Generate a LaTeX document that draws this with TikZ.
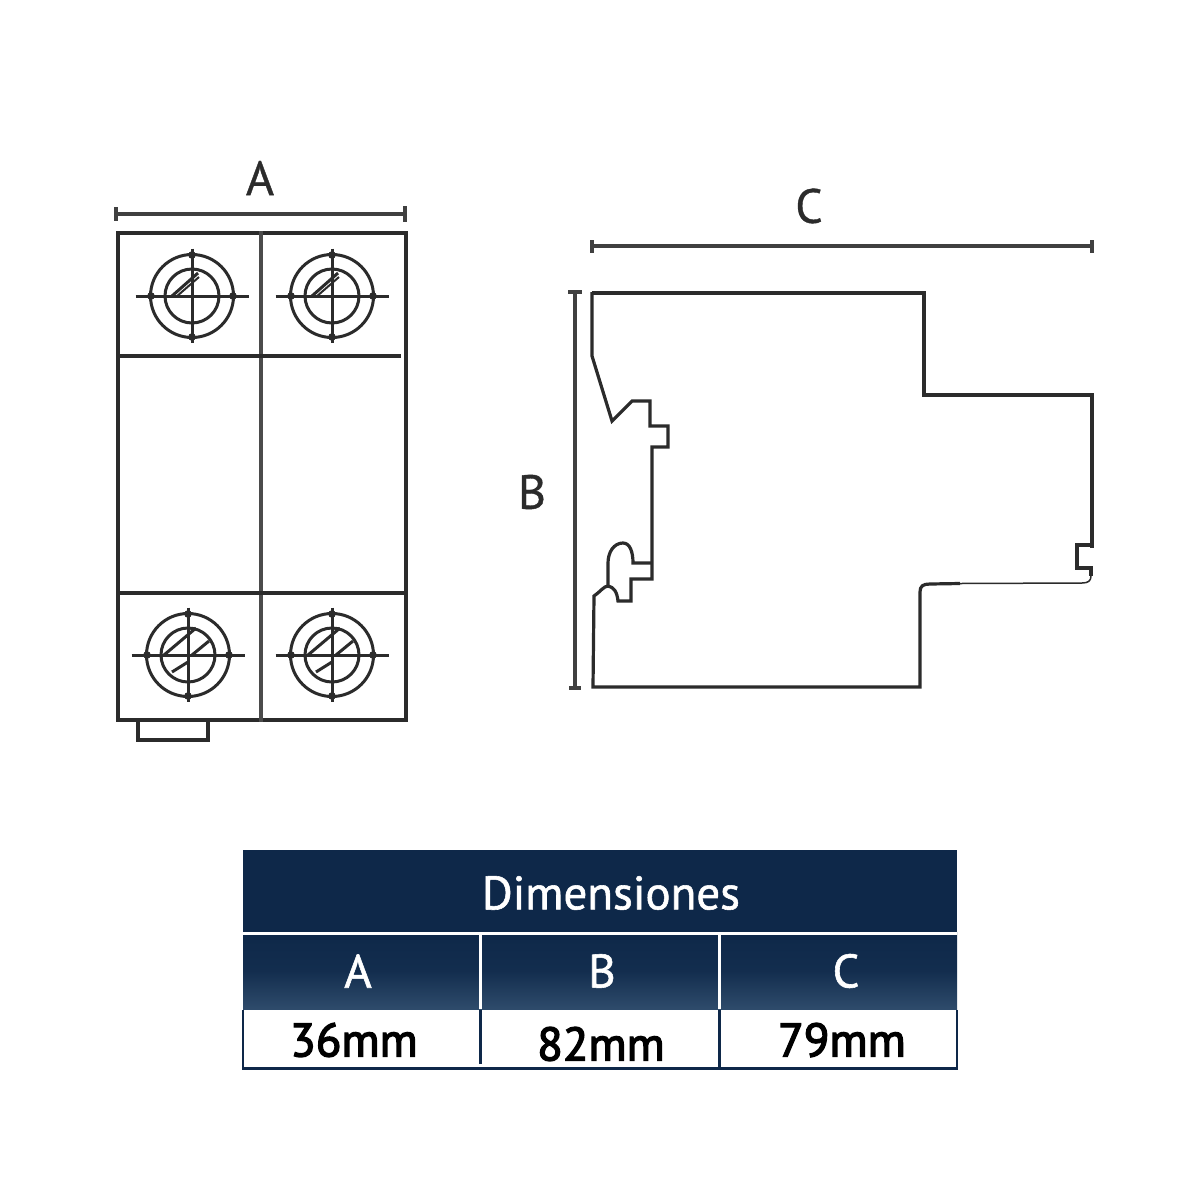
\documentclass[tikz,border=0pt]{standalone}
\usepackage{fontspec}
\setmainfont{PT Sans}
\newfontfamily\labelfont{PT Sans}[FakeBold=0.8]
\newfontfamily\headfont{PT Sans}[FakeBold=1.2]
\newfontfamily\valfont{PT Sans}[FakeBold=3]
\definecolor{navy}{HTML}{0E2849}
\definecolor{navylight}{HTML}{2F4C6C}
\definecolor{ink}{HTML}{2B2B2B}
\tikzset{
  body/.style={draw=ink,line width=3.4pt,line cap=butt,line join=miter},
  divider/.style={draw=ink!85,line width=3.2pt},
  profile/.style={draw=ink,line width=3.2pt,line cap=butt,line join=miter},
  dim/.style={draw=ink!90,line width=3.2pt},
  screwline/.style={draw=ink,line width=3pt},
  biglabel/.style={text=ink,font=\labelfont\fontsize{48}{50}\selectfont,inner sep=0pt},
  headtext/.style={text=white,font=\headfont\fontsize{47}{50}\selectfont,inner sep=0pt},
  valtext/.style={text=black,font=\valfont\fontsize{47}{50}\selectfont,inner sep=0pt},
  whiterule/.style={draw=white,line width=3pt},
}
\newcommand{\screwbase}[2]{%
  \draw[screwline] (#1,#2) circle[radius=41.5pt];
  \draw[screwline] (#1,#2) circle[radius=27pt];
  \draw[screwline] (#1-56.5,#2) -- (#1+56.5,#2);
  \draw[screwline] (#1,#2-47.5) -- (#1,#2+47);
  \fill[ink] (#1-41,#2) circle[radius=3.8pt] (#1+41,#2) circle[radius=3.8pt]
             (#1,#2-41) circle[radius=3.8pt] (#1,#2+41) circle[radius=3.8pt];
}
\newcommand{\screwtop}[2]{%
  \screwbase{#1}{#2}
  \draw[screwline] (#1-20,#2) -- (#1+6,#2-23);
  \draw[screwline,line width=2pt] (#1-16,#2+1) -- (#1+7,#2-19);
}
\newcommand{\screwbottom}[2]{%
  \screwbase{#1}{#2}
  \draw[screwline] (#1-24,#2) -- (#1+8,#2-27);
  \draw[screwline] (#1+4,#2) -- (#1+21,#2-14);
  \draw[screwline] (#1-16,#2+17) -- (#1,#2+7);
}
\begin{document}
\begin{tikzpicture}[x=1pt,y=-1pt]
\useasboundingbox (0,0) rectangle (1200,1200);
\fill[white] (0,0) rectangle (1200,1200);

% front view
\draw[body] (118,233) rectangle (406,720);
\draw[divider] (261,231) -- (261,722);
\draw[body] (119,356) -- (401,356);
\draw[body] (118,593) -- (406,593);
\draw[profile] (138,721) -- (138,740) -- (208,740) -- (208,721);
\screwtop{192}{296}
\screwtop{332}{296}
\screwbottom{188}{655}
\screwbottom{332}{655}

% dimension A
\coordinate (a1) at (116,214);
\coordinate (a2) at (405,214);
\draw[dim] (a1) -- (a2);
\draw[dim] (a1)+(0,-7) -- +(0,7);
\draw[dim] (a2)+(0,-8) -- +(0,8);
\node[biglabel] (labelA) at (260,178) {A};

% dimension C
\coordinate (c1) at (592,246);
\coordinate (c2) at (1092,246);
\draw[dim] (c1) -- (c2);
\draw[dim] (c1)+(0,-6) -- +(0,7);
\draw[dim] (c2)+(0,-6) -- +(0,7);
\node[biglabel] (labelC) at (809,206) {C};

% dimension B
\coordinate (b1) at (575,292);
\coordinate (b2) at (575,688);
\draw[dim] (b1) -- (b2);
\draw[dim] (b1)+(-7,0) -- +(7,0);
\draw[dim] (b2)+(-6,0) -- +(6,0);
\node[biglabel] (labelB) at (532,492) {B};

% side profile
\draw[profile]
  (592,293) -- (924,293) -- (924,395) -- (1092,395) -- (1092,548)
  (1092,545) -- (1077,545) -- (1077,568) -- (1091,568) -- (1091,576);
\draw[profile] (592,292) -- (592,356) -- (612,421) -- (632,401) -- (650,401)
  -- (650,426) -- (668,426) -- (668,447) -- (652,447) -- (652,579) -- (631,579) -- (631,601)
  -- (618,601) .. controls (617,592) and (614,587) .. (608,586)
  .. controls (604,586) and (600,592) .. (594,596) -- (593,687) -- (920,687) -- (920,592)
  .. controls (920,586) and (923,584) .. (930,584) -- (960,583.5);
\draw[profile] (608,586) -- (608,563)
  .. controls (608,552) and (614,543) .. (623,543)
  .. controls (630,543) and (633,552) .. (633,563) -- (652,563);
\draw[profile,line width=1.5pt] (960,583.5) -- (1082,583)
  .. controls (1088,583) and (1091,581) .. (1091,576);

% table
\fill[navy] (243,850) rectangle (957,932);
\shade[top color=navy,bottom color=navylight,middle color=navy!85!navylight] (243,932) rectangle (957,1010);
\fill[white] (243,1010) rectangle (957,1066);
\draw[navy,line width=3pt] (242,1068) -- (958,1068);
\draw[navy,line width=1.5pt] (243,1010) -- (243,1068);
\draw[navy,line width=1.5pt] (957,1010) -- (957,1068);
\draw[whiterule] (243,933) -- (957,933);
\draw[whiterule,line width=2.5pt] (480.5,934) -- (480.5,1009);
\draw[whiterule,line width=2.5pt] (719.5,934) -- (719.5,1009);
\draw[navy,line width=2.2pt] (480.5,1010) -- (480.5,1064);
\draw[navy,line width=2.2pt] (719.5,1010) -- (719.5,1067);
\node[headtext] (title) at (611,893) {Dimensiones};
\node[headtext] (headA) at (358,971) {A};
\node[headtext] (headB) at (602,971) {B};
\node[headtext] (headC) at (846,971) {C};
\node[valtext] (valA) at (354,1040) {36mm};
\node[valtext] (valB) at (601,1044) {82mm};
\node[valtext] (valC) at (842,1040) {79mm};
\end{tikzpicture}
\end{document}
